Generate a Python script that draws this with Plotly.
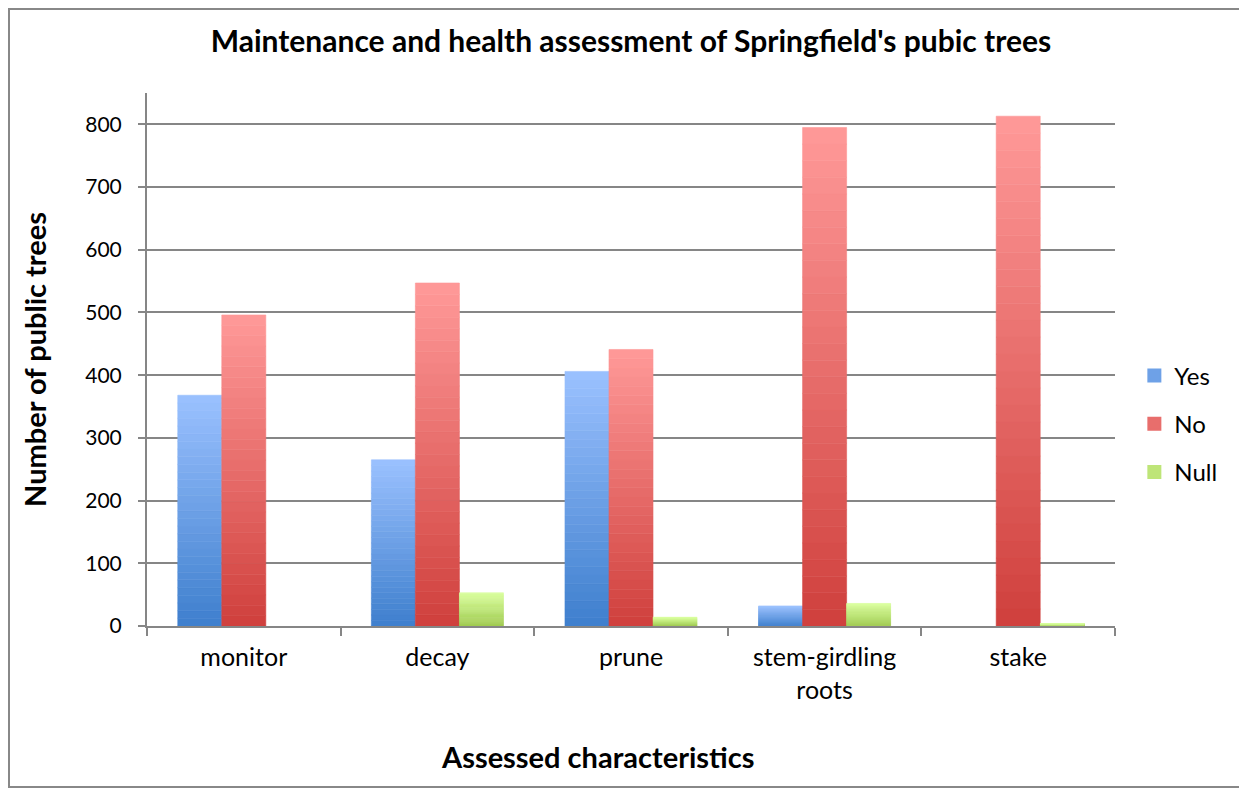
import plotly.graph_objects as go

categories = ["monitor", "decay", "prune", "stem-girdling<br>roots", "stake"]
yes_counts = [368, 265, 406, 32, 0]
no_counts = [496, 547, 441, 795, 813]
null_counts = [0, 53, 14, 36, 4]

series_names = ["Yes", "No", "Null"]
series_values = [yes_counts, no_counts, null_counts]
# (bottom colour, top colour) for the vertical gradient of each series
series_colors = [((62, 127, 205), (155, 193, 255)),
                 ((207, 63, 60), (255, 154, 153)),
                 ((160, 202, 80), (218, 255, 158))]

N_STEPS = 30
FONT = "Lato"


def mix(c0, c1, t):
    return "rgb(%d,%d,%d)" % tuple(round(a + (b - a) * t) for a, b in zip(c0, c1))


fig = go.Figure()

# each bar is split into thin stacked slices so it can fade from dark to light
for name, vals, (bottom, top) in zip(series_names, series_values, series_colors):
    for k in range(N_STEPS):
        t = (k + 0.5) / N_STEPS
        col = mix(bottom, top, t)
        fig.add_trace(go.Bar(
            x=categories,
            y=[v / N_STEPS for v in vals],
            base=[v * k / N_STEPS for v in vals],
            offsetgroup=name,
            legendgroup=name,
            name=name,
            showlegend=(k == N_STEPS // 2),
            marker=dict(color=col,
                        line=dict(width=[0.6 if v > 0 else 0 for v in vals], color=col)),
            hovertemplate=name + ": %{customdata}<extra></extra>",
            customdata=vals,
        ))

# page body adds an 8px offset, so the figure is 8px smaller than the window
fig.update_layout(
    width=1239,
    height=780,
    margin=dict(l=139, r=132, t=85, b=162),
    plot_bgcolor="white",
    paper_bgcolor="white",
    barmode="group",
    bargap=0.318,
    bargroupgap=0,
    font=dict(family=FONT, size=21, color="black"),
    title=dict(
        text="<b>Maintenance and health assessment of Springfield's pubic trees</b>",
        x=0.5, xanchor="center", y=0.957, yanchor="middle",
        xref="paper",
        font=dict(family=FONT, size=30, color="black"),
    ),
    legend=dict(
        x=1.02, y=0.379, xanchor="left", yanchor="middle",
        font=dict(family=FONT, size=24),
        tracegroupgap=14,
        itemsizing="constant",
        bgcolor="rgba(0,0,0,0)",
    ),
    xaxis=dict(
        showline=True, linecolor="#868686", linewidth=2,
        ticks="outside", tickson="boundaries", ticklen=8, tickcolor="#868686", tickwidth=2,
        tickfont=dict(size=25),
        ticklabelstandoff=8,
        showgrid=False,
    ),
    yaxis=dict(
        title=dict(text="<b>Number of public trees</b>", font=dict(size=29), standoff=30),
        range=[0, 850],
        tickvals=[0, 100, 200, 300, 400, 500, 600, 700, 800],
        showline=True, linecolor="#868686", linewidth=2,
        ticks="outside", ticklen=7, tickcolor="#868686", tickwidth=2,
        ticklabelstandoff=12,
        showgrid=True, gridcolor="#868686", gridwidth=2,
        zeroline=False,
    ),
)

# x axis title sits a little left of the plot centre, as in the original
fig.add_annotation(
    text="<b>Assessed characteristics</b>",
    xref="paper", yref="paper", x=0.465, y=-0.245,
    xanchor="center", yanchor="middle", showarrow=False,
    font=dict(family=FONT, size=29, color="black"),
)

# thin frame around the whole chart area
fig.add_shape(
    type="rect", xref="paper", yref="paper",
    x0=-138 / 968, x1=1 + 131 / 968, y0=-161 / 533, y1=1 + 84 / 533,
    line=dict(color="#888888", width=2), fillcolor="rgba(0,0,0,0)", layer="below",
)

fig.write_html("out.html")
